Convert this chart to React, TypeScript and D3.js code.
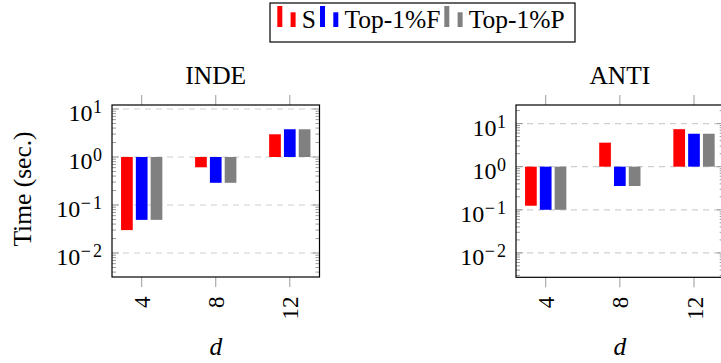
import React from 'react';
import * as d3 from 'd3';

const categories = ['4', '8', '12'];
const seriesNames = ['S', 'Top-1%F', 'Top-1%P'];
const seriesColors = ['#ff0000', '#0000ff', '#808080'];

const indeS = [0.03, 0.61, 2.97];
const indeF = [0.049, 0.29, 3.78];
const indeP = [0.049, 0.29, 3.78];

const antiS = [0.124, 3.6, 7.4];
const antiF = [0.1, 0.356, 5.8];
const antiP = [0.1, 0.356, 5.8];

const majorTicks = [0.01, 0.1, 1, 10];
const majorExponents = ['\u22122', '\u22121', '0', '1'];

const FONT = '"Liberation Serif", "Times New Roman", serif';
const TICK_COLOR = '#9a9a9a';
const TEXT_SIZE = 25.5;

type PanelProps = {
  title: string;
  series: number[][];
  x0: number;
  x1: number;
  y0: number;
  y1: number;
  logMin: number;
  logMax: number;
};

function Panel({ title, series, x0, x1, y0, y1, logMin, logMax }: PanelProps) {
  const y = d3.scaleLog().domain([Math.pow(10, logMin), Math.pow(10, logMax)]).range([y1, y0]);
  const x = d3.scalePoint<string>().domain(categories).range([x0 + 29.7, x1 - 29.7]);
  const sub = d3.scalePoint<string>().domain(seriesNames).range([-14.8, 14.8]);
  const barW = 11.7;

  const minor: number[] = [];
  for (let k = Math.floor(logMin) - 1; k <= Math.ceil(logMax); k++) {
    for (let m = 2; m <= 9; m++) {
      const v = m * Math.pow(10, k);
      const lv = Math.log10(v);
      if (lv >= logMin && lv <= logMax) minor.push(v);
    }
  }
  const cx = (x0 + x1) / 2;

  return (
    <g>
      <text x={cx} y={84} textAnchor="middle" fontFamily={FONT} fontSize={TEXT_SIZE}>{title}</text>
      {majorTicks.map((t) => (
        <line key={'g' + t} x1={x0} x2={x1} y1={y(t)} y2={y(t)} stroke="#cfcfcf" strokeWidth={1.2} strokeDasharray="6 5" />
      ))}
      {series.map((vals, si) =>
        vals.map((v, ci) => {
          const bx = (x(categories[ci]) as number) + (sub(seriesNames[si]) as number) - barW / 2;
          const ya = y(v);
          const yb = y(1);
          return (
            <rect key={si + '-' + ci} x={bx} width={barW} y={Math.min(ya, yb)} height={Math.abs(ya - yb)} fill={seriesColors[si]} />
          );
        })
      )}
      {minor.map((t) => (
        <g key={'m' + t}>
          <line x1={x0} x2={x0 + 4} y1={y(t)} y2={y(t)} stroke={TICK_COLOR} strokeWidth={1} />
          <line x1={x1 - 4} x2={x1} y1={y(t)} y2={y(t)} stroke={TICK_COLOR} strokeWidth={1} />
        </g>
      ))}
      {majorTicks.map((t, i) => {
        const e = majorExponents[i];
        const neg = e.startsWith('\u2212');
        return (
          <g key={'t' + t}>
            <line x1={x0} x2={x0 + 7} y1={y(t)} y2={y(t)} stroke={TICK_COLOR} strokeWidth={1} />
            <line x1={x1 - 7} x2={x1} y1={y(t)} y2={y(t)} stroke={TICK_COLOR} strokeWidth={1} />
            <text x={x0 - 10} y={y(t) + 12} textAnchor="end" fontFamily={FONT} fontSize={24}>
              <tspan>10</tspan>
              {neg ? (
                <>
                  <tspan dy={-7.5} dx={0.5} fontSize={18}>{'\u2212'}</tspan>
                  <tspan dx={2} fontSize={18}>{e.slice(1)}</tspan>
                </>
              ) : (
                <tspan dy={-7.5} dx={0.5} fontSize={18}>{e}</tspan>
              )}
            </text>
          </g>
        );
      })}
      {categories.map((c) => (
        <g key={'x' + c}>
          <line x1={x(c)} x2={x(c)} y1={y0 - 10} y2={y0} stroke={TICK_COLOR} strokeWidth={1} />
          <line x1={x(c)} x2={x(c)} y1={y1} y2={y1 + 10} stroke={TICK_COLOR} strokeWidth={1} />
          <text transform={`translate(${(x(c) as number) + 8.5},${y1 + 19.5}) rotate(-90)`} textAnchor="end" fontFamily={FONT} fontSize={23}>{c}</text>
        </g>
      ))}
      <rect x={x0} y={y0} width={x1 - x0} height={y1 - y0} fill="none" stroke="#000" strokeWidth={1.2} />
      <text x={cx} y={355} textAnchor="middle" fontFamily={FONT} fontSize={TEXT_SIZE} fontStyle="italic">d</text>
    </g>
  );
}

const legendStarts = [277.3, 320, 444.3];

export default function App() {
  return (
    <svg width={721} height={363} style={{ position: 'absolute', left: 0, top: 0, background: '#fff' }}>
      <rect x={0} y={0} width={721} height={363} fill="#fff" />
      <rect x={270} y={3} width={305} height={39} fill="#fff" stroke="#000" strokeWidth={1.2} />
      {seriesNames.map((n, i) => (
        <g key={n}>
          <rect x={legendStarts[i]} y={6} width={5} height={21} fill={seriesColors[i]} />
          <rect x={legendStarts[i] + 13.3} y={12.3} width={5} height={14.7} fill={seriesColors[i]} />
          <text x={legendStarts[i] + 24.5} y={27.5} fontFamily={FONT} fontSize={TEXT_SIZE}>{n}</text>
        </g>
      ))}
      <text transform="translate(31,189) rotate(-90)" textAnchor="middle" fontFamily={FONT} fontSize={TEXT_SIZE}>Time (sec.)</text>
      <Panel title="INDE" series={[indeS, indeF, indeP]} x0={112} x1={319.5} y0={105} y1={277} logMin={-2.5} logMax={1.083} />
      <Panel title="ANTI" series={[antiS, antiF, antiP]} x0={516} x1={723.7} y0={105} y1={277.3} logMin={-2.566} logMax={1.43} />
    </svg>
  );
}
